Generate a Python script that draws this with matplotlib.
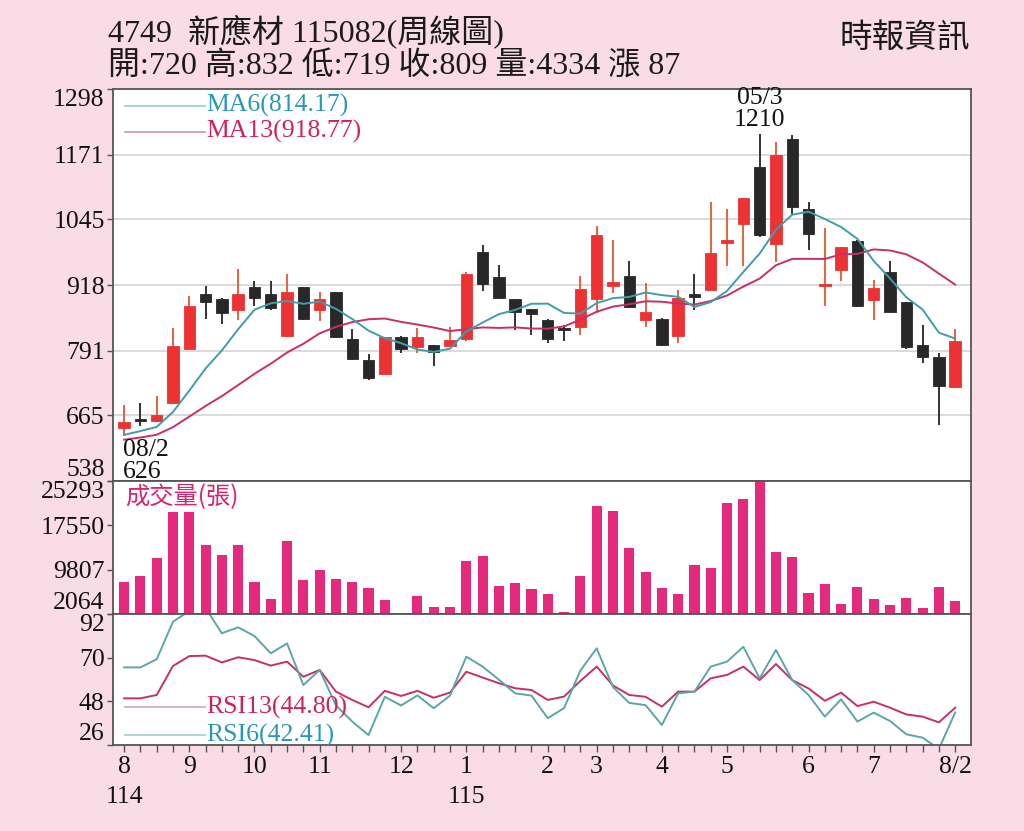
import numpy as np
import matplotlib
matplotlib.use('Agg')
import matplotlib.pyplot as plt

plt.rcParams['font.family'] = ['Liberation Serif', 'Noto Sans CJK TC', 'DejaVu Sans']

# weekly candles, 114/08 week 2 .. 115/08 week 2
opens = [640, 656, 655, 689, 794, 901, 890, 870, 914, 901, 820, 914, 870, 905, 813, 773, 746, 818, 797, 802,
         799, 813, 982, 934, 890, 872, 850, 835, 837, 891, 917, 935, 851, 853, 820, 901, 908, 1000, 1036, 1146,
         997, 1201, 1065, 916, 947, 1004, 888, 943, 885, 801, 778, 720]
highs = [686, 689, 702, 835, 896, 917, 892, 949, 925, 925, 940, 914, 905, 905, 832, 784, 817, 819, 835, 802,
         837, 943, 995, 956, 890, 872, 852, 841, 935, 1032, 1005, 964, 921, 854, 909, 940, 1079, 1066, 1086, 1210,
         1196, 1209, 1079, 1029, 992, 1006, 927, 964, 885, 840, 787, 832]
lows = [626, 644, 653, 689, 793, 852, 842, 851, 877, 870, 818, 851, 848, 815, 773, 733, 746, 786, 786, 760,
        799, 809, 906, 891, 831, 822, 806, 809, 822, 864, 903, 874, 837, 799, 806, 870, 908, 955, 955, 1012,
        962, 1055, 986, 877, 925, 876, 851, 865, 793, 767, 646, 719]
closes = [653, 655, 666, 799, 878, 885, 864, 901, 893, 874, 905, 852, 890, 817, 775, 738, 817, 794, 817, 789,
          812, 940, 919, 892, 866, 861, 813, 832, 911, 1014, 924, 875, 865, 801, 892, 895, 981, 1005, 1086, 1014,
          1170, 1070, 1016, 920, 992, 877, 913, 866, 797, 778, 722, 809]
# closes of the 12 weeks before the window (only feed the moving averages)
closes_before = [600, 596, 608, 612, 618, 615, 622, 610, 618, 625, 630, 628]

volumes = [7736, 8614, 11898, 19905, 19905, 14057, 12301, 14057, 7613, 4698, 14813, 8034, 9720, 8210, 7613,
           6559, 4575, 2150, 5155, 3346, 3346, 11248, 12249, 6911, 7560, 6507, 5506, 2345, 8614, 20853, 20081,
           13654, 9439, 6559, 5629, 10598, 10019, 21380, 22135, 25293, 12881, 12003, 5752, 7262, 3820, 6735,
           4698, 3697, 4874, 3170, 6735, 4334]

rsi13 = [49.5, 49.5, 51.2, 65.8, 70.8, 71.0, 67.6, 70.2, 68.8, 66.0, 68.0, 60.4, 63.8, 52.9, 48.7, 45.0, 53.3,
         50.7, 53.3, 49.8, 52.4, 62.9, 60.0, 57.1, 54.6, 53.7, 48.7, 50.4, 58.3, 65.5, 56.0, 51.2, 50.3, 45.3,
         52.9, 52.9, 59.6, 61.3, 65.5, 58.7, 66.8, 58.7, 54.5, 48.3, 52.4, 45.6, 47.8, 44.8, 41.4, 40.3, 37.4,
         44.80]
rsi6 = [65.1, 65.1, 69.2, 88.1, 93.5, 95.0, 82.3, 85.3, 80.9, 72.2, 77.2, 56.2, 63.8, 46.0, 37.8, 31.0, 50.3,
        45.9, 51.0, 44.5, 50.9, 70.5, 65.5, 58.9, 52.0, 50.9, 39.5, 44.6, 63.5, 74.7, 55.2, 47.2, 46.1, 36.1,
        52.0, 52.9, 65.5, 68.0, 75.5, 59.6, 73.9, 58.7, 51.2, 40.3, 49.0, 37.8, 42.3, 38.1, 31.4, 29.7, 24.0,
        42.41]

month_pos = [0, 4, 8, 12, 17, 21, 26, 29, 33, 37, 42, 46, 51]
month_labels = ['8', '9', '10', '11', '12', '1', '2', '3', '4', '5', '6', '7', '8/2']
year_pos = [0, 21]
year_labels = ['114', '115']

price_ticks = [538, 665, 791, 918, 1045, 1171, 1298]
vol_ticks = [2064, 9807, 17550, 25293]
rsi_ticks = [26, 48, 70, 92]

peak_week = '05/3'
low_week = '08/2'

BG = '#FADCE7'
RED = '#EC3233'
BLACK = '#282828'
PINK = '#E5297C'
TEAL = '#3E9EAA'
MAG = '#C72F6B'

n = len(closes)
x = np.arange(n)
allc = np.array(closes_before + closes, dtype=float)
ma6 = np.convolve(allc, np.ones(6) / 6, mode='valid')[-n:]
ma13 = np.convolve(allc, np.ones(13) / 13, mode='valid')[-n:]

fig = plt.figure(figsize=(10.24, 8.31), dpi=100, facecolor=BG)
W, H = 1024, 831
L, R = 113, 971


def panel(top, bottom):
    return fig.add_axes([L / W, 1 - bottom / H, (R - L) / W, (bottom - top) / H])


ax1 = panel(89, 481)
ax2 = panel(481, 614)
ax3 = panel(614, 745)
xlim = (-0.68, 51.97)

for ax in (ax1, ax2, ax3):
    ax.set_facecolor('white')
    ax.set_xlim(*xlim)
    for s in ax.spines.values():
        s.set_color('#555555')
        s.set_linewidth(1.3)
    ax.tick_params(axis='y', direction='out', length=4, width=1, color='#555555',
                   labelsize=18.5, labelcolor='#111111', pad=2)

# price panel
ax1.set_ylim(538, 1298)
ax1.set_yticks(price_ticks)
ax1.set_yticklabels([str(t) for t in price_ticks])
ax1.grid(axis='y', color='#d4d4d4', linewidth=1.2)
ax1.set_axisbelow(True)
ax1.set_xticks([])

for i in range(n):
    o, h, l, c = opens[i], highs[i], lows[i], closes[i]
    up = c >= o
    body_col = RED if up else BLACK
    wick_col = '#E2643F' if up else '#333333'
    ax1.vlines(i, l, h, color=wick_col, linewidth=1.4, zorder=2)
    hgt = max(abs(c - o), 4)
    ax1.bar(i, hgt, bottom=min(o, c) - (hgt - abs(c - o)) / 2, width=0.7,
            color=body_col, edgecolor=body_col, linewidth=0.6, zorder=3)

ax1.plot(x, ma13, color=MAG, linewidth=1.4, zorder=4)
ax1.plot(x, ma6, color=TEAL, linewidth=1.4, zorder=4)

ax1.plot([0.014, 0.107], [0.957, 0.957], transform=ax1.transAxes, color='#9ccfd2', linewidth=1.3)
ax1.text(0.109, 0.957, 'MA6(%.2f)' % ma6[-1], transform=ax1.transAxes, color='#2a98b4',
         fontsize=18.5, va='center', ha='left')
ax1.plot([0.014, 0.107], [0.891, 0.891], transform=ax1.transAxes, color='#d79ab3', linewidth=1.3)
ax1.text(0.109, 0.891, 'MA13(%.2f)' % ma13[-1], transform=ax1.transAxes, color='#d0205e',
         fontsize=18.5, va='center', ha='left')

ih = int(np.argmax(highs))
il = int(np.argmin(lows))
ax1.text(ih, highs[ih] + 6, '%s\n%d' % (peak_week, highs[ih]), ha='center', va='bottom',
         fontsize=18.5, linespacing=1.0, color='#111111', clip_on=False, zorder=5)
ax1.text(il - 0.08, lows[il] - 6, '%s\n%d' % (low_week, lows[il]), ha='left', va='top',
         fontsize=18.5, linespacing=1.0, color='#111111', clip_on=False, zorder=5)

# volume panel
ax2.bar(x, np.array(volumes) - vol_ticks[0], bottom=vol_ticks[0], width=0.62, color=PINK, zorder=2)
ax2.set_ylim(vol_ticks[0], vol_ticks[-1])
ax2.set_yticks(vol_ticks)
ax2.set_yticklabels([str(t) for t in vol_ticks])
ax2.set_xticks([])
ax2.text(0.014, 0.88, '成交量(張)', transform=ax2.transAxes, color='#D6246E', fontsize=17.5,
         family=['Noto Sans CJK TC'], va='center', ha='left')

# RSI panel
ax3.plot(x, rsi13, color=MAG, linewidth=1.4)
ax3.plot(x, rsi6, color='#5aa6a8', linewidth=1.4)
ax3.set_ylim(26, 92)
ax3.set_yticks(rsi_ticks)
ax3.set_yticklabels([str(t) for t in rsi_ticks])
ax3.plot([0.014, 0.107], [0.29, 0.29], transform=ax3.transAxes, color='#dcaabd', linewidth=1.3)
ax3.text(0.109, 0.29, 'RSI13(%.2f)' % rsi13[-1], transform=ax3.transAxes, color='#d0205e',
         fontsize=18.5, va='center', ha='left')
ax3.plot([0.014, 0.107], [0.076, 0.076], transform=ax3.transAxes, color='#a8d2d4', linewidth=1.3)
ax3.text(0.109, 0.076, 'RSI6(%.2f)' % rsi6[-1], transform=ax3.transAxes, color='#2a98b4',
         fontsize=18.5, va='center', ha='left')

ax3.set_xticks(x)
lab = [''] * n
for p, m in zip(month_pos, month_labels):
    lab[p] = m
ax3.set_xticklabels(lab)
ax3.tick_params(axis='x', direction='out', length=5, width=1, color='#555555',
                labelsize=18.5, labelcolor='#111111', pad=3)
for p, yl in zip(year_pos, year_labels):
    ax3.text(p, -0.31, yl, transform=ax3.get_xaxis_transform(), ha='center', va='top',
             fontsize=18.5, color='#111111')

for ax in (ax1, ax2, ax3):
    tl = ax.get_yticklabels()
    tl[0].set_va('bottom')
    tl[-1].set_va('top')

# header
fig.text(108 / W, 1 - 31 / H, '4749  新應材 115082(周線圖)', fontsize=23, color='#1a1a1a', va='center')
fig.text(108 / W, 1 - 67 / H, '開:720 高:832 低:719 收:809 量:4334 漲 87', fontsize=23, color='#1a1a1a',
         va='center')
fig.text(970 / W, 1 - 38 / H, '時報資訊', fontsize=23.5, color='#1a1a1a', va='center', ha='right')

fig.savefig('out.png', dpi=100, facecolor=BG)
